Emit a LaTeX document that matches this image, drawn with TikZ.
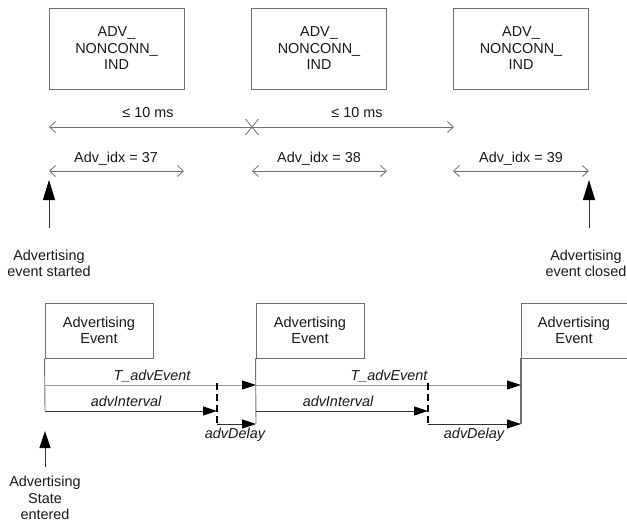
\documentclass[tikz,border=0pt]{standalone}
\usepackage{fontspec}
\setmainfont{Liberation Sans}
\usetikzlibrary{arrows.meta}
\definecolor{boxgray}{HTML}{707070}
\definecolor{linegray}{HTML}{707070}
\definecolor{lightline}{HTML}{9A9A9A}
\definecolor{darkline}{HTML}{303030}
\definecolor{txtcol}{HTML}{1A1A1A}
\begin{document}
\begin{tikzpicture}[x=1pt,y=-1pt,
  txt/.style={font=\fontsize{14.4}{16.5}\selectfont, inner sep=0pt, align=center, text=txtcol},
  itxt/.style={font=\fontsize{14.4}{16.5}\selectfont\itshape, inner sep=0pt, text=txtcol},
  topbox/.style={draw=boxgray, line width=0.9pt, minimum width=135pt, minimum height=81pt, inner sep=0pt, align=center, font=\fontsize{14.4}{16.5}\selectfont, text=txtcol},
  evbox/.style={draw=boxgray, line width=0.9pt, minimum width=108pt, minimum height=55pt, inner sep=0pt, align=center, font=\fontsize{14.6}{16.5}\selectfont, text=txtcol},
  openarr/.style={draw=linegray, line width=0.8pt, {Straight Barb[length=6pt,width=11pt]}-{Straight Barb[length=6pt,width=11pt]}},
  bigup/.style={draw=darkline, line width=0.9pt, -{Triangle[length=20pt,width=12pt,black]}},
  smallup/.style={draw=darkline, line width=0.9pt, -{Triangle[length=17pt,width=11pt,black]}},
  fillarr/.style={line width=0.8pt, -{Triangle[length=14pt,width=9pt,black]}},
  delaydash/.style={draw=black, line width=2.5pt, dash pattern=on 7pt off 4pt},
]
\useasboundingbox (0,0) rectangle (627,523);

% top boxes
\node[topbox] (b1) at (116.5,48.5) {ADV\_\\NONCONN\_\\IND};
\node[topbox] (b2) at (319,48.5) {ADV\_\\NONCONN\_\\IND};
\node[topbox] (b3) at (521,48.5) {ADV\_\\NONCONN\_\\IND};

% <= 10 ms line
\coordinate (m1) at (49,127);
\coordinate (mx) at (252,127);
\coordinate (m2) at (454,127);
\draw[openarr] (m1) -- (m2);
\draw[linegray, line width=0.8pt] ([shift={(-6.5,-8)}]mx) -- ([shift={(6.5,8)}]mx)
  ([shift={(-6.5,8)}]mx) -- ([shift={(6.5,-8)}]mx);
\node[txt, anchor=base] (t1) at (148,117) {≤ 10 ms};
\node[txt, anchor=base] (t2) at (357,117) {≤ 10 ms};

% Adv_idx arrows
\coordinate (a1l) at (49,171);  \coordinate (a1r) at (184,171);
\coordinate (a2l) at (252,171); \coordinate (a2r) at (387,171);
\coordinate (a3l) at (453,171); \coordinate (a3r) at (589,171);
\draw[openarr] (a1l) -- (a1r);
\draw[openarr] (a2l) -- (a2r);
\draw[openarr] (a3l) -- (a3r);
\node[txt, anchor=base] (i1) at (116,162) {Adv\_idx = 37};
\node[txt, anchor=base] (i2) at (319,162) {Adv\_idx = 38};
\node[txt, anchor=base] (i3) at (521,162) {Adv\_idx = 39};

% start / close arrows
\node[txt, anchor=north] (st) at (49,249.5) {Advertising\\event started};
\node[txt, anchor=north] (cl) at (586,249.5) {Advertising\\event closed};
\coordinate (stt) at (49,180);
\coordinate (clt) at (589,180);
\draw[bigup] (49,228) -- (stt);
\draw[bigup] (589,228) -- (clt);

% bottom event boxes
\node[evbox] (eA) at (99,330.5) {Advertising\\Event};
\node[evbox] (eB) at (310,330.5) {Advertising\\Event};
\node[txt, font=\fontsize{14.6}{16.5}\selectfont] (eC) at (574,330.5) {Advertising\\Event};
\draw[boxgray, line width=0.9pt] (627,303) -- (521,303) -- (521,358) -- (627,358);

% vertical extensions
\coordinate (vA) at (45,411);
\coordinate (vB) at (256,424);
\coordinate (vC) at (521,424);
\draw[boxgray, line width=0.9pt] (eA.south west) -- (vA);
\draw[boxgray, line width=0.9pt] (eB.south west) -- (vB);
\draw[boxgray, line width=1.1pt] (521,358) -- (vC);

% timing lines
\coordinate (tA) at (45,385);  \coordinate (tB) at (256,385); \coordinate (tC) at (521,385);
\coordinate (d1) at (217,411); \coordinate (d2) at (428,411);
\coordinate (iB) at (256,411);
\coordinate (d1b) at (217,424); \coordinate (d2b) at (428,424);

\draw[fillarr, draw=lightline] (tA) -- (tB);
\draw[fillarr, draw=lightline] (tB) -- (tC);
\draw[fillarr, draw=darkline] (vA) -- (d1);
\draw[fillarr, draw=darkline] (iB) -- (d2);
\draw[fillarr, draw=darkline] (d1b) -- (vB);
\draw[fillarr, draw=darkline] (d2b) -- (vC);

\draw[delaydash] (217,383) -- (d1b);
\draw[delaydash] (428,383) -- (d2b);

\node[itxt, anchor=base] (l1) at (152,380) {T\_advEvent};
\node[itxt, anchor=base] (l2) at (389,380) {T\_advEvent};
\node[itxt, anchor=base] (l3) at (126,406) {advInterval};
\node[itxt, anchor=base] (l4) at (338,406) {advInterval};
\node[itxt, anchor=base] (l5) at (235,438) {advDelay};
\node[itxt, anchor=base] (l6) at (474,438) {advDelay};

% state entered
\node[txt, anchor=north] (se) at (45,476) {Advertising\\State\\entered};
\coordinate (set) at (45,431);
\draw[smallup] (45,467) -- (set);
\end{tikzpicture}
\end{document}
